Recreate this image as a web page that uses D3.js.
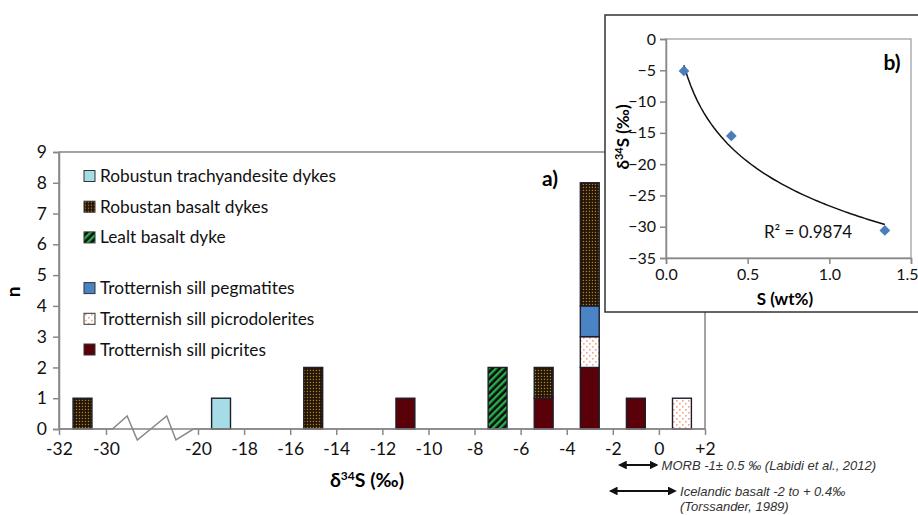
<!DOCTYPE html>
<html>
<head>
<meta charset="utf-8">
<script src="https://cdn.jsdelivr.net/npm/d3@7"></script>
<style>
  body { margin: 0; background: #fff; }
  svg { display: block; font-family: Lato, "Open Sans", sans-serif; }
</style>
</head>
<body>
<svg id="chart" width="918" height="515"></svg>
<script>
// histogram bins (centre of each 2‰ bin)
const binCentres = [-31, -19, -15, -11, -7, -5, -3, -1, 1];
const picrites = [0, 0, 0, 1, 0, 1, 2, 1, 0];
const picrodolerites = [0, 0, 0, 0, 0, 0, 1, 0, 1];
const pegmatites = [0, 0, 0, 0, 0, 0, 1, 0, 0];
const lealtBasalt = [0, 0, 0, 0, 2, 0, 0, 0, 0];
const robustanBasalt = [1, 0, 2, 0, 0, 1, 4, 0, 0];
const trachyandesite = [0, 1, 0, 0, 0, 0, 0, 0, 0];

const seriesKeys = ['picrites', 'picrodolerites', 'pegmatites', 'lealt', 'robustan', 'trachy'];
const seriesNames = {
  trachy: 'Robustun trachyandesite dykes',
  robustan: 'Robustan basalt dykes',
  lealt: 'Lealt basalt dyke',
  pegmatites: 'Trotternish sill pegmatites',
  picrodolerites: 'Trotternish sill picrodolerites',
  picrites: 'Trotternish sill picrites'
};
const legendOrder = ['trachy', 'robustan', 'lealt', null, 'pegmatites', 'picrodolerites', 'picrites'];

const xTicks = [-32, -30, -20, -18, -16, -14, -12, -10, -8, -6, -4, -2, 0, 2];
const yTicks = [0, 1, 2, 3, 4, 5, 6, 7, 8, 9];

// inset b): S content vs d34S
const sWt = [0.11, 0.40, 1.34];
const d34S = [-5.1, -15.5, -30.6];
const insetXTicks = [0, 0.5, 1.0, 1.5];
const insetYTicks = [0, -5, -10, -15, -20, -25, -30, -35];
const r2Label = 'R² = 0.9874';

// reference ranges shown under the axis
const ranges = [
  { from: -1.7, to: -0.1, lines: ['MORB -1± 0.5 ‰ (Labidi et al., 2012)'] },
  { from: -2.1, to: 0.7, lines: ['Icelandic basalt -2 to + 0.4‰', '(Torssander, 1989)'] }
];

const svg = d3.select('#chart');
const defs = svg.append('defs');

// fills
const dots = defs.append('pattern').attr('id', 'pRobustan')
  .attr('patternUnits', 'userSpaceOnUse').attr('width', 3).attr('height', 3);
dots.append('rect').attr('width', 3).attr('height', 3).attr('fill', '#1e1308');
dots.append('rect').attr('x', 0.8).attr('y', 0.8).attr('width', 1.3).attr('height', 1.3).attr('fill', '#b58020');

const stripes = defs.append('pattern').attr('id', 'pLealt')
  .attr('patternUnits', 'userSpaceOnUse').attr('width', 5).attr('height', 5)
  .attr('patternTransform', 'rotate(45)');
stripes.append('rect').attr('width', 5).attr('height', 5).attr('fill', '#0c0c0c');
stripes.append('rect').attr('width', 2.4).attr('height', 5).attr('fill', '#27b04a');

const pink = defs.append('pattern').attr('id', 'pPicrodol')
  .attr('patternUnits', 'userSpaceOnUse').attr('width', 6).attr('height', 6);
pink.append('rect').attr('width', 6).attr('height', 6).attr('fill', '#fff');
pink.append('rect').attr('x', 1).attr('y', 1).attr('width', 1.6).attr('height', 1.6).attr('fill', '#f5a582');
pink.append('rect').attr('x', 4).attr('y', 4).attr('width', 1.6).attr('height', 1.6).attr('fill', '#f5a582');

const fills = {
  trachy: '#a6dce6',
  robustan: 'url(#pRobustan)',
  lealt: 'url(#pLealt)',
  pegmatites: '#4a84c4',
  picrodolerites: 'url(#pPicrodol)',
  picrites: '#5a0008'
};

// ---- main chart a) ----
const plot = { left: 59, right: 705, top: 152, bottom: 429 };
const x = d3.scaleLinear()
  .domain([-32, -30, -20, 2])
  .range([plot.left, 106, 198, plot.right]);
const y = d3.scaleLinear().domain([0, 9]).range([plot.bottom, plot.top]);

const rows = binCentres.map((c, i) => ({
  centre: c,
  picrites: picrites[i], picrodolerites: picrodolerites[i], pegmatites: pegmatites[i],
  lealt: lealtBasalt[i], robustan: robustanBasalt[i], trachy: trachyandesite[i]
}));
const stacked = d3.stack().keys(seriesKeys)(rows);

// plot frame
svg.append('rect')
  .attr('x', plot.left).attr('y', plot.top)
  .attr('width', plot.right - plot.left).attr('height', plot.bottom - plot.top)
  .attr('fill', 'none').attr('stroke', '#666').attr('stroke-width', 1.2);

const barW = (x(-2) - x(-4)) * 0.41;
svg.append('g').selectAll('g')
  .data(stacked).join('g')
    .attr('fill', d => fills[d.key])
  .selectAll('rect')
  .data(d => d.filter(p => p[1] > p[0])).join('rect')
    .attr('x', d => x(d.data.centre) - barW / 2)
    .attr('y', d => y(d[1]))
    .attr('width', barW)
    .attr('height', d => y(d[0]) - y(d[1]))
    .attr('stroke', '#1d1d2b')
    .attr('stroke-width', 1.4);

// y axis
const yAxis = svg.append('g')
  .attr('transform', `translate(${plot.left},0)`)
  .call(d3.axisLeft(y).tickValues(yTicks).tickSize(6).tickPadding(6));
yAxis.select('.domain').attr('stroke', '#888').attr('stroke-width', 1.5);
yAxis.selectAll('line').attr('stroke', '#888').attr('stroke-width', 1.5);
yAxis.selectAll('text').attr('font-family', 'Lato, sans-serif').attr('font-size', 17.5).attr('fill', '#111');

// x axis with a break between -30 and -20
const xAxis = svg.append('g')
  .attr('transform', `translate(0,${plot.bottom})`)
  .call(d3.axisBottom(x).tickValues(xTicks).tickSize(6).tickPadding(8)
    .tickFormat(d => d > 0 ? '+' + d : d));
xAxis.select('.domain').remove();
xAxis.selectAll('line').attr('stroke', '#888').attr('stroke-width', 1.5);
xAxis.selectAll('text').attr('font-family', 'Lato, sans-serif').attr('font-size', 17.5).attr('fill', '#111');

const gapA = x(-30), gapB = x(-20), gw = gapB - gapA;
const zig = [
  [plot.left, 0], [gapA + gw * 0.07, 0], [gapA + gw * 0.23, -13], [gapA + gw * 0.34, 11],
  [gapA + gw * 0.66, -13], [gapA + gw * 0.76, 11], [gapA + gw * 0.95, 0], [plot.right, 0]
];
svg.append('path')
  .attr('d', d3.line().x(d => d[0]).y(d => plot.bottom + d[1])(zig))
  .attr('fill', 'none').attr('stroke', '#888').attr('stroke-width', 1.5);

svg.append('text')
  .attr('x', 367).attr('y', 487).attr('text-anchor', 'middle')
  .attr('font-size', 19.5).attr('font-weight', 'bold')
  .html('δ<tspan dy="-7" font-size="12">34</tspan><tspan dy="7">S (‰)</tspan>');
svg.append('text')
  .attr('transform', 'translate(20,292) rotate(-90)').attr('text-anchor', 'middle')
  .attr('font-size', 19).attr('font-weight', 'bold').text('n');
svg.append('text')
  .attr('x', 550).attr('y', 186).attr('text-anchor', 'middle')
  .attr('font-size', 21).attr('font-weight', 'bold').text('a)');

// legend
let ly = 176;
legendOrder.forEach(k => {
  if (k === null) { ly += 20; return; }
  const g = svg.append('g').attr('transform', `translate(84,${ly})`);
  g.append('rect').attr('x', 0).attr('y', -5.5).attr('width', 11).attr('height', 11)
    .attr('fill', fills[k]).attr('stroke', '#333').attr('stroke-width', 1);
  g.append('text').attr('x', 16).attr('y', 0).attr('dy', '0.35em')
    .attr('font-size', 17.3).attr('fill', '#111').text(seriesNames[k]);
  ly += 30.7;
});

// reference ranges
const ay = [465, 491];
defs.append('marker').attr('id', 'arr').attr('viewBox', '0 0 10 10')
  .attr('refX', 8).attr('refY', 5).attr('markerWidth', 4).attr('markerHeight', 4)
  .attr('orient', 'auto-start-reverse')
  .append('path').attr('d', 'M0,0 L10,5 L0,10 z').attr('fill', '#111');
ranges.forEach((r, i) => {
  svg.append('line')
    .attr('x1', x(r.from)).attr('x2', x(r.to)).attr('y1', ay[i]).attr('y2', ay[i])
    .attr('stroke', '#111').attr('stroke-width', 2.2)
    .attr('marker-start', 'url(#arr)').attr('marker-end', 'url(#arr)');
  r.lines.forEach((t, j) => {
    svg.append('text')
      .attr('x', x(r.to) + 5).attr('y', ay[i] + 5 + j * 15)
      .attr('font-family', '"Liberation Sans", Arial, sans-serif')
      .attr('font-style', 'italic').attr('font-size', 13).attr('fill', '#333')
      .text(t);
  });
});

// ---- inset b) ----
svg.append('rect')
  .attr('x', 605).attr('y', 15).attr('width', 340).attr('height', 297)
  .attr('fill', '#fff').attr('stroke', '#333').attr('stroke-width', 1.5);

const ix = d3.scaleLinear().domain([0, 1.5]).range([666, 911]);
const iy = d3.scaleLinear().domain([-35, 0]).range([258, 39]);

svg.append('rect')
  .attr('x', ix(0)).attr('y', iy(0))
  .attr('width', ix(1.5) - ix(0)).attr('height', iy(-35) - iy(0))
  .attr('fill', 'none').attr('stroke', '#999').attr('stroke-width', 1.2);

const iyAxis = svg.append('g').attr('transform', `translate(${ix(0)},0)`)
  .call(d3.axisLeft(iy).tickValues(insetYTicks).tickSize(6).tickPadding(4));
const ixAxis = svg.append('g').attr('transform', `translate(0,${iy(-35)})`)
  .call(d3.axisBottom(ix).tickValues(insetXTicks).tickSize(6).tickPadding(5).tickFormat(d3.format('.1f')));
[iyAxis, ixAxis].forEach(a => {
  a.select('.domain').attr('stroke', '#888').attr('stroke-width', 1.5);
  a.selectAll('line').attr('stroke', '#888').attr('stroke-width', 1.5);
  a.selectAll('text').attr('font-family', 'Lato, sans-serif').attr('font-size', 16).attr('fill', '#111');
});
// keep the last label inside the window
ixAxis.selectAll('text').filter(d => d === 1.5).attr('text-anchor', 'end').attr('dx', 7);

// logarithmic least-squares trend line from the three points
const lx = sWt.map(Math.log);
const mx = d3.mean(lx), my = d3.mean(d34S);
const slope = d3.sum(lx, (v, i) => (v - mx) * (d34S[i] - my)) / d3.sum(lx, v => (v - mx) ** 2);
const icpt = my - slope * mx;
const [xmin, xmax] = d3.extent(sWt);
const trend = d3.range(0, 61).map(i => {
  const s = xmin + (xmax - xmin) * i / 60;
  return [s, slope * Math.log(s) + icpt];
});
svg.append('path')
  .attr('d', d3.line().x(d => ix(d[0])).y(d => iy(d[1]))(trend))
  .attr('fill', 'none').attr('stroke', '#111').attr('stroke-width', 1.5);

svg.append('g').selectAll('path')
  .data(sWt.map((s, i) => [s, d34S[i]])).join('path')
    .attr('transform', d => `translate(${ix(d[0])},${iy(d[1])}) rotate(45)`)
    .attr('d', d3.symbol(d3.symbolSquare, 58))
    .attr('fill', '#4a7ebb');

svg.append('text')
  .attr('x', 808).attr('y', 238).attr('text-anchor', 'middle')
  .attr('font-size', 17).attr('fill', '#111').text(r2Label);
svg.append('text')
  .attr('x', 892).attr('y', 70).attr('text-anchor', 'middle')
  .attr('font-size', 21).attr('font-weight', 'bold').text('b)');
svg.append('text')
  .attr('x', 785).attr('y', 305).attr('text-anchor', 'middle')
  .attr('font-size', 17).attr('font-weight', 'bold').text('S (wt%)');
svg.append('text')
  .attr('transform', 'translate(629,137) rotate(-90)').attr('text-anchor', 'middle')
  .attr('font-size', 17).attr('font-weight', 'bold')
  .html('δ<tspan dy="-6" font-size="11">34</tspan><tspan dy="6">S (‰)</tspan>');
</script>
</body>
</html>
